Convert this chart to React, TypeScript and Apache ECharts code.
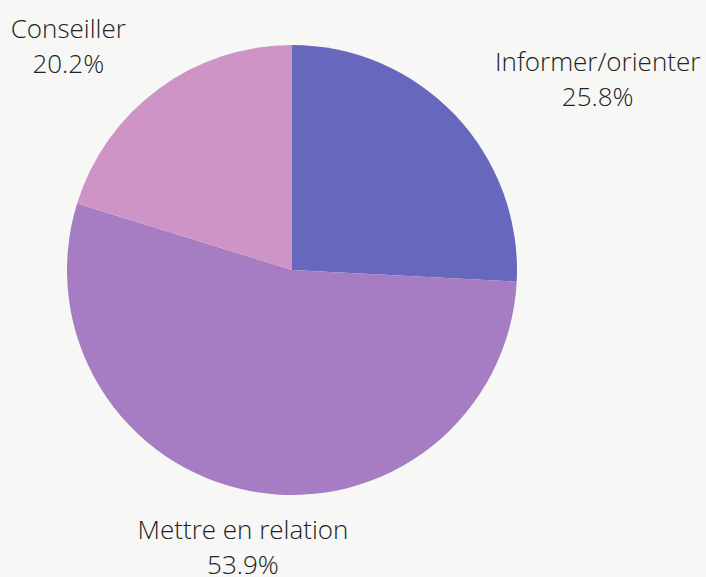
import React, { useEffect, useRef } from "react";
import * as echarts from "echarts";

const categories = ["Informer/orienter", "Mettre en relation", "Conseiller"];
const values = [25.8, 53.9, 20.2];
const colors = ["#6767bd", "#a67cc2", "#ce94c5"];

const CX = 292;
const CY = 270;
const RADIUS = 225;
const LABEL_R = 280;
const LABEL_DY = 1;

export default function App() {
  const ref = useRef<HTMLDivElement>(null);
  useEffect(() => {
    if (!ref.current) return;
    const chart = echarts.init(ref.current, null, { renderer: "svg" });
    const total = values.reduce((a, b) => a + b, 0);
    const mids: number[] = [];
    let acc = 0;
    values.forEach((v) => {
      mids.push(((acc + v / 2) / total) * Math.PI * 2);
      acc += v;
    });
    chart.setOption({
      animation: false,
      backgroundColor: "#f7f8f5",
      series: [
        {
          type: "pie",
          center: [CX, CY],
          radius: RADIUS,
          startAngle: 90,
          clockwise: true,
          data: categories.map((c, i) => ({
            name: c,
            value: values[i],
            itemStyle: { color: colors[i] },
          })),
          label: {
            show: true,
            position: "outside",
            formatter: (p: any) => `${p.name}\n${p.value.toFixed(1)}%`,
            fontFamily: "Open Sans",
            fontWeight: 300,
            fontSize: 26,
            lineHeight: 35,
            color: "#222222",
            align: "center",
            overflow: "none",
          },
          labelLine: { show: false },
          emphasis: { disabled: true },
          labelLayout: (params: any) => {
            const a = mids[params.dataIndex];
            const s = Math.sin(a);
            const c = Math.cos(a);
            const ax = CX + LABEL_R * s;
            const ay = CY - LABEL_R * c + LABEL_DY;
            const w = params.labelRect.width;
            let x = ax;
            if (s > 0.3) x = ax + w / 2;
            else if (s < -0.3) x = ax - w / 2;
            return { x, y: ay, align: "center", verticalAlign: "middle" };
          },
        },
      ],
    });
    return () => chart.dispose();
  }, []);
  return (
    <div
      ref={ref}
      style={{ position: "fixed", left: 0, top: 0, width: 706, height: 577 }}
    />
  );
}
